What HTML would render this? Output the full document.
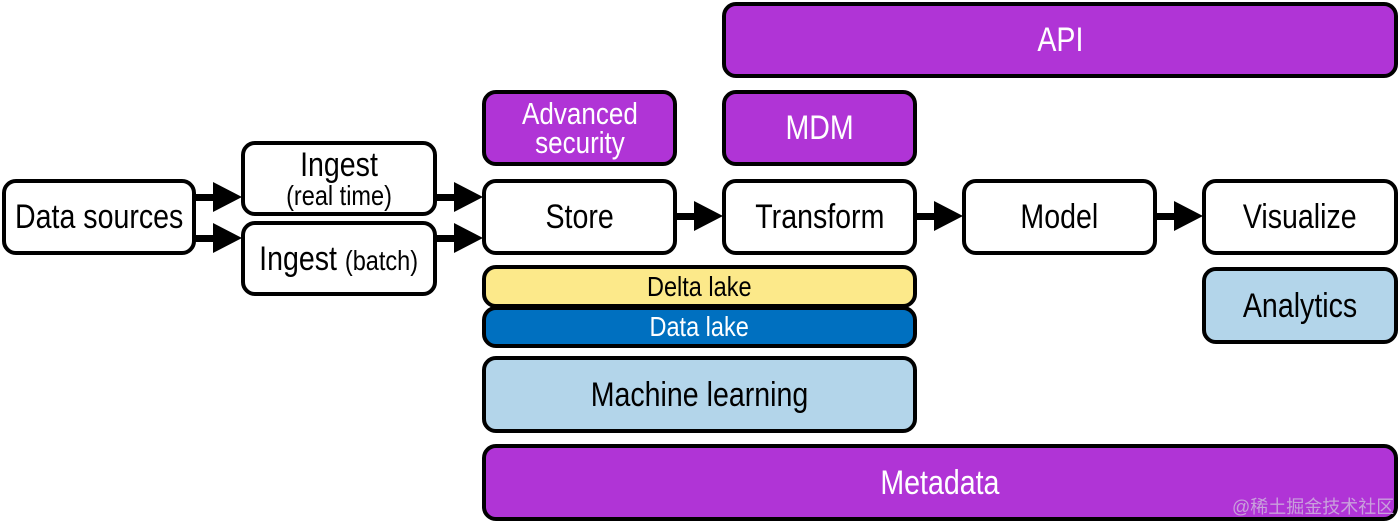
<!DOCTYPE html>
<html><head><meta charset="utf-8"><style>
body{margin:0;width:1400px;height:522px;background:#fff;position:relative;overflow:hidden;font-family:"Liberation Sans",sans-serif;}
.b{position:absolute;box-sizing:border-box;border:4px solid #000;border-radius:14px;display:flex;align-items:center;justify-content:center;text-align:center;font-size:34px;color:#000;line-height:1;background:#fff;white-space:nowrap}
.b>span{display:inline-block;transform:scaleX(0.84)}
.p{background:#b034d6;color:#fff}
.y{background:#fce98a}
.d{background:#0070c0;color:#fff}
.l{background:#b3d5ea}
svg{position:absolute;left:0;top:0}
</style></head><body>
<div class="b" style="left:2px;top:179px;width:194px;height:76px"><span>Data sources</span></div>
<div class="b" style="left:241px;top:141px;width:196px;height:75px"><span><div>Ingest</div><div style="font-size:28px">(real time)</div></span></div>
<div class="b" style="left:241px;top:221px;width:196px;height:75px"><span>Ingest <small style="font-size:28px">(batch)</small></span></div>
<div class="b p" style="left:482px;top:90px;width:195px;height:76px;font-size:31px;line-height:0.95"><span><div>Advanced</div><div>security</div></span></div>
<div class="b" style="left:482px;top:179px;width:195px;height:76px"><span>Store</span></div>
<div class="b p" style="left:722px;top:2px;width:676px;height:76px"><span>API</span></div>
<div class="b p" style="left:722px;top:90px;width:195px;height:76px"><span>MDM</span></div>
<div class="b" style="left:722px;top:179px;width:195px;height:76px"><span>Transform</span></div>
<div class="b" style="left:962px;top:179px;width:195px;height:76px"><span>Model</span></div>
<div class="b" style="left:1202px;top:179px;width:196px;height:76px"><span>Visualize</span></div>
<div class="b l" style="left:1202px;top:267px;width:196px;height:77px"><span>Analytics</span></div>
<div class="b y" style="left:482px;top:265px;width:435px;height:43px;font-size:28px"><span>Delta lake</span></div>
<div class="b d" style="left:482px;top:306px;width:435px;height:42px;font-size:28px"><span>Data lake</span></div>
<div class="b l" style="left:482px;top:356px;width:435px;height:77px"><span>Machine learning</span></div>
<div class="b p" style="left:482px;top:444px;width:916px;height:77px"><span>Metadata</span></div>
<div style="position:absolute;left:1232px;top:493px;font-size:18px;color:#c9a0dc;white-space:nowrap;font-family:'Liberation Sans','Noto Sans CJK SC',sans-serif">@稀土掘金技术社区</div>
<svg width="1400" height="522">
<g fill="#000">
<rect x="195" y="194" width="20" height="7"/><polygon points="213,182 242,197 213,212"/>
<rect x="195" y="235" width="20" height="7"/><polygon points="213,223 242,238 213,253"/>
<rect x="436" y="194" width="20" height="7"/><polygon points="454,182 483,197 454,212"/>
<rect x="436" y="235" width="20" height="7"/><polygon points="454,223 483,238 454,253"/>
<rect x="676" y="213" width="20" height="7"/><polygon points="694,201 723,216 694,231"/>
<rect x="916" y="213" width="20" height="7"/><polygon points="934,201 963,216 934,231"/>
<rect x="1156" y="213" width="20" height="7"/><polygon points="1174,201 1203,216 1174,231"/>
</g></svg>
</body></html>
